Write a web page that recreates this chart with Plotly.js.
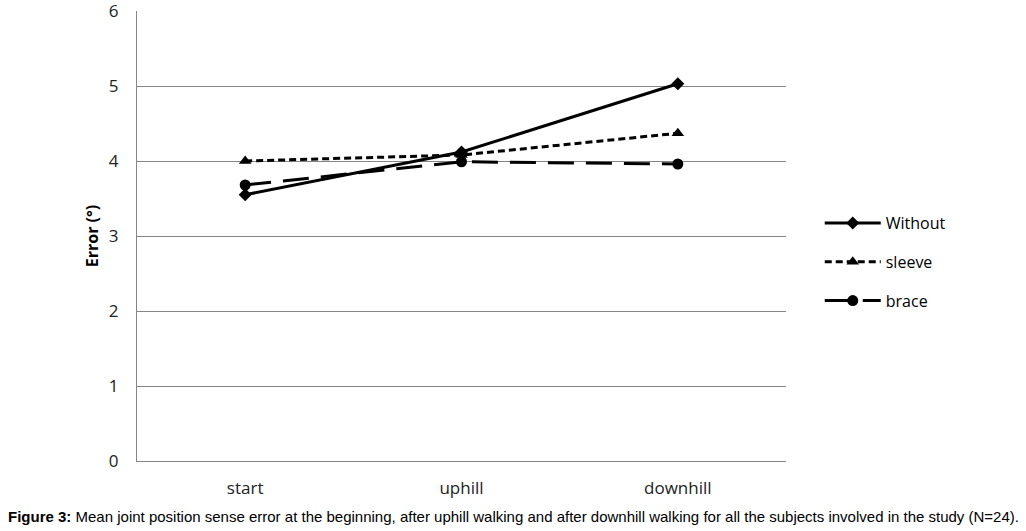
<!DOCTYPE html>
<html><head><meta charset="utf-8">
<script src="https://cdn.plot.ly/plotly-3.0.1.min.js"></script>
<style>body{margin:0;background:#fff}#c{width:1026px;height:531px}</style>
</head><body><div id="c"></div>
<script>
const categories = ["start", "uphill", "downhill"];
const withoutVals = [3.55, 4.12, 5.03];
const sleeveVals = [4.0, 4.08, 4.37];
const braceVals = [3.68, 3.99, 3.96];
const yTicks = [0, 1, 2, 3, 4, 5, 6];

const traces = [
  {x: categories, y: withoutVals, name: "Without", legendgroup: "a", mode: "lines+markers",
   line: {color: "#000", width: 3, dash: "solid"}, marker: {symbol: "diamond", size: 10, color: "#000"}},
  {x: categories, y: sleeveVals, name: "sleeve", legendgroup: "b", mode: "lines+markers",
   line: {color: "#000", width: 3, dash: "7px,4px"}, marker: {symbol: "triangle-up", size: 11, color: "#000"}},
  {x: categories, y: braceVals, name: "brace", legendgroup: "c", mode: "lines+markers",
   line: {color: "#000", width: 3, dash: "26px,12px"}, marker: {symbol: "circle", size: 11, color: "#000"}}
];
const layout = {
  width: 1026, height: 531,
  margin: {l: 137, r: 240, t: 11, b: 70},
  paper_bgcolor: "#fff", plot_bgcolor: "#fff",
  font: {family: "'Open Sans', Lato, sans-serif", color: "#000", size: 17},
  xaxis: {type: "category", range: [-0.5, 2.5], showgrid: false, showline: true, linecolor: "#868686", linewidth: 1,
          ticks: "", ticklabelstandoff: 12, tickfont: {size: 17, color: "#222"}, zeroline: false},
  yaxis: {range: [0, 6], tickvals: yTicks, showgrid: true, gridcolor: "#868686", gridwidth: 1,
          showline: true, linecolor: "#868686", ticks: "", ticklabelstandoff: 14, ticklabeloverflow: "allow",
          tickfont: {size: 17, color: "#222"}, zeroline: false,
          title: {text: "<b>Error (°)</b>", font: {size: 16, family: "'Open Sans', sans-serif"}, standoff: 6}},
  showlegend: true,
  legend: {x: 1.052, xanchor: "left", y: 0.442, yanchor: "middle", xref: "paper", yref: "paper",
           font: {size: 16}, itemwidth: 56, tracegroupgap: 15, bgcolor: "rgba(0,0,0,0)", traceorder: "grouped"},
  annotations: [{
    xref: "paper", yref: "paper", x: -131/649, y: -0.124, xanchor: "left", yanchor: "middle", showarrow: false,
    text: "<b>Figure 3:</b> Mean joint position sense error at the beginning, after uphill walking and after downhill walking for all the subjects involved in the study (N=24).",
    font: {family: "'Liberation Sans', Arial, sans-serif", size: 15, color: "#000"}
  }]
};
Plotly.newPlot("c", traces, layout, {displayModeBar: false, staticPlot: true});
</script></body></html>
